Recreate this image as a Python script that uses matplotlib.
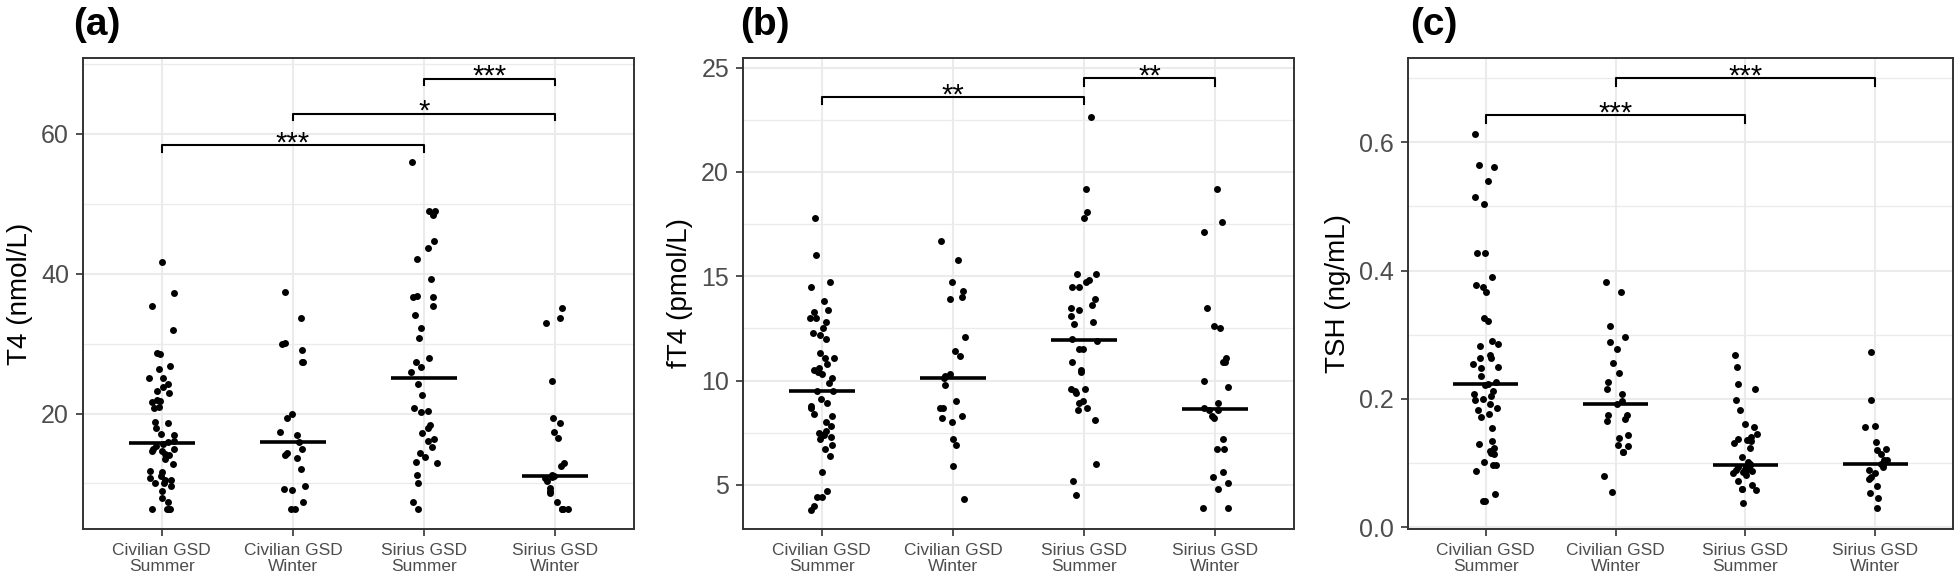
import numpy as np
import matplotlib
matplotlib.use('Agg')
import matplotlib.pyplot as plt

plt.rcParams['font.family'] = ['Liberation Sans', 'DejaVu Sans']

groups = ['Civilian GSD\nSummer', 'Civilian GSD\nWinter', 'Sirius GSD\nSummer', 'Sirius GSD\nWinter']

# (a) T4, nmol/L
t4_civ_summer = [41.6, 37.2, 35.4, 32.0, 28.6, 28.5, 26.8, 26.4, 25.1, 25.1, 24.2, 23.8, 23.2, 23.0,
                 21.9, 21.8, 21.6, 21.0, 20.8, 18.8, 18.7, 17.9, 17.1, 16.9, 16.1, 15.9, 15.6, 15.4,
                 14.9, 14.9, 14.7, 14.7, 14.2, 14.0, 13.5, 12.8, 11.8, 11.6, 11.1, 10.8, 10.5, 10.5,
                 10.1, 10.0, 9.6, 8.9, 7.9, 7.3, 6.4, 6.4, 6.4, 6.4]
t4_civ_winter = [37.4, 33.6, 30.1, 29.9, 29.1, 27.4, 27.4, 19.9, 19.3, 17.4, 16.9, 15.9, 14.9, 14.4,
                 14.1, 13.7, 12.1, 9.7, 9.2, 9.0, 7.3, 6.4, 6.4]
t4_sir_summer = [55.9, 48.9, 48.9, 48.4, 44.6, 43.6, 42.1, 39.3, 36.8, 36.7, 36.6, 35.4, 34.1, 32.3,
                 30.8, 27.9, 27.3, 26.6, 25.9, 24.2, 22.7, 20.8, 20.4, 20.2, 18.3, 17.9, 17.2, 16.4,
                 16.1, 15.2, 14.4, 13.8, 13.0, 12.9, 11.2, 10.1, 7.3, 6.4]
t4_sir_winter = [35.1, 33.7, 32.9, 24.6, 19.4, 18.7, 17.4, 16.5, 12.9, 12.5, 11.2, 11.0, 10.9, 10.8,
                 10.4, 9.4, 8.9, 8.6, 7.3, 6.4, 6.4, 6.4, 6.4]

# (b) fT4, pmol/L
ft4_civ_summer = [17.8, 16.0, 14.7, 14.5, 13.8, 13.4, 13.3, 13.0, 13.0, 12.8, 12.5, 12.3, 12.2, 12.0,
                  11.3, 11.1, 11.1, 10.8, 10.6, 10.5, 10.4, 10.3, 10.1, 9.9, 9.5, 9.5, 9.1, 8.9, 8.8,
                  8.7, 8.4, 8.3, 8.0, 7.8, 7.6, 7.5, 7.4, 7.4, 7.3, 7.2, 6.9, 6.7, 6.4, 5.6, 4.7, 4.4,
                  4.4, 4.0, 3.8]
ft4_civ_winter = [16.7, 15.8, 14.7, 14.3, 14.0, 13.9, 12.1, 11.4, 11.2, 10.3, 10.2, 10.1, 9.8, 9.0,
                  8.7, 8.7, 8.3, 8.2, 8.0, 7.2, 6.9, 5.9, 4.3]
ft4_sir_summer = [22.65, 19.2, 18.1, 17.8, 15.1, 15.1, 14.8, 14.7, 14.5, 14.5, 13.9, 13.6, 13.5, 13.4,
                  13.1, 12.8, 12.7, 12.0, 11.9, 11.5, 11.5, 10.9, 10.5, 10.4, 9.6, 9.6, 9.5, 9.4, 9.0,
                  8.9, 8.7, 8.6, 8.1, 6.0, 5.2, 4.5]
ft4_sir_winter = [19.2, 17.6, 17.1, 13.5, 12.6, 12.5, 11.1, 10.9, 10.9, 10.0, 9.7, 8.9, 8.7, 8.6, 8.6,
                  8.3, 8.2, 7.2, 6.7, 6.7, 5.6, 5.4, 5.1, 4.8, 3.9, 3.9]

# (c) TSH, ng/mL
tsh_civ_summer = [0.613, 0.565, 0.561, 0.539, 0.515, 0.503, 0.428, 0.428, 0.390, 0.378, 0.374, 0.366,
                  0.326, 0.322, 0.290, 0.286, 0.283, 0.268, 0.263, 0.263, 0.254, 0.249, 0.248, 0.235,
                  0.226, 0.223, 0.221, 0.212, 0.208, 0.204, 0.199, 0.198, 0.192, 0.186, 0.183, 0.176,
                  0.172, 0.154, 0.134, 0.130, 0.124, 0.118, 0.116, 0.114, 0.101, 0.097, 0.097, 0.088,
                  0.051, 0.040, 0.040]
tsh_civ_winter = [0.382, 0.367, 0.314, 0.296, 0.289, 0.278, 0.256, 0.240, 0.226, 0.215, 0.207, 0.196,
                  0.192, 0.174, 0.174, 0.169, 0.166, 0.143, 0.139, 0.128, 0.126, 0.117, 0.117, 0.079,
                  0.055]
tsh_sir_summer = [0.269, 0.249, 0.223, 0.216, 0.198, 0.182, 0.160, 0.156, 0.145, 0.141, 0.138, 0.136,
                  0.134, 0.131, 0.124, 0.110, 0.101, 0.098, 0.097, 0.095, 0.094, 0.093, 0.090, 0.089,
                  0.088, 0.088, 0.087, 0.086, 0.084, 0.081, 0.072, 0.066, 0.060, 0.060, 0.057, 0.037]
tsh_sir_winter = [0.273, 0.198, 0.157, 0.156, 0.133, 0.121, 0.120, 0.114, 0.105, 0.104, 0.098, 0.097,
                  0.093, 0.089, 0.085, 0.078, 0.075, 0.064, 0.053, 0.046, 0.029]

# significance brackets: (from group, to group, height, label)
sig_a = [(1, 3, 58.4, '***'), (2, 4, 62.9, '*'), (3, 4, 67.9, '***')]
sig_b = [(1, 3, 23.6, '**'), (3, 4, 24.5, '**')]
sig_c = [(1, 3, 0.642, '***'), (2, 4, 0.700, '***')]


def panel(ax, data, ylabel, ylim, major, minor, ticklabels, sigs, drop, seed):
	rng = np.random.default_rng(seed)
	ax.set_axisbelow(True)
	for i, vals in enumerate(data):
		x = i + 1
		vals = np.array(vals)
		jit = rng.uniform(-0.1, 0.1, len(vals))
		ax.scatter(x + jit, vals, s=25, color='black', linewidths=0, zorder=3)
		ax.hlines(np.median(vals), x - 0.25, x + 0.25, color='black', lw=2.6, zorder=4)
	for x1, x2, y, lab in sigs:
		ax.plot([x1, x1, x2, x2], [y - drop, y, y, y - drop], color='black', lw=1.5, zorder=4)
		ax.annotate(lab, xy=((x1 + x2) / 2, y), xytext=(0, -4.5), textcoords='offset points',
			ha='center', va='baseline', fontsize=21, color='black')
	ax.set_xlim(0.4, 4.6)
	ax.set_ylim(*ylim)
	ax.set_xticks([1, 2, 3, 4])
	ax.set_xticklabels(groups, fontsize=12.5, color='#4D4D4D', linespacing=1.1)
	ax.set_yticks(major)
	ax.set_yticklabels(ticklabels, fontsize=18, color='#4D4D4D')
	ax.set_yticks(minor, minor=True)
	ax.grid(which='major', color='#EBEBEB', lw=1.5)
	ax.grid(which='minor', color='#EBEBEB', lw=0.9)
	ax.tick_params(which='major', length=5, width=1.2, color='#333333', pad=5)
	ax.tick_params(which='minor', length=0)
	for s in ax.spines.values():
		s.set_color('#333333')
		s.set_linewidth(1.4)
	ax.set_ylabel(ylabel, fontsize=20, labelpad=6)


def main():
	fig = plt.figure(figsize=(19.6, 5.81), dpi=100)
	bottom, height = (581 - 529.3) / 581, (529.3 - 57.6) / 581
	ax1 = fig.add_axes([83 / 1960, bottom, 551 / 1960, height])
	ax2 = fig.add_axes([743 / 1960, bottom, 551 / 1960, height])
	ax3 = fig.add_axes([1408 / 1960, bottom, 545 / 1960, height])

	panel(ax1, [t4_civ_summer, t4_civ_winter, t4_sir_summer, t4_sir_winter], 'T4 (nmol/L)',
		(3.44, 70.9), [20, 40, 60], [10, 30, 50, 70], ['20', '40', '60'], sig_a, 0.95, 1)
	panel(ax2, [ft4_civ_summer, ft4_civ_winter, ft4_sir_summer, ft4_sir_winter], 'fT4 (pmol/L)',
		(2.87, 25.48), [5, 10, 15, 20, 25], [7.5, 12.5, 17.5, 22.5],
		['5', '10', '15', '20', '25'], sig_b, 0.36, 2)
	panel(ax3, [tsh_civ_summer, tsh_civ_winter, tsh_sir_summer, tsh_sir_winter], 'TSH (ng/mL)',
		(-0.0035, 0.732), [0, 0.2, 0.4, 0.6], [0.1, 0.3, 0.5, 0.7],
		['0.0', '0.2', '0.4', '0.6'], sig_c, 0.0116, 3)

	fig.text(73 / 1960, 1 - 25 / 581, '(a)', fontsize=28, weight='bold', ha='left', va='center')
	fig.text(740 / 1960, 1 - 25 / 581, '(b)', fontsize=28, weight='bold', ha='left', va='center')
	fig.text(1410 / 1960, 1 - 25 / 581, '(c)', fontsize=28, weight='bold', ha='left', va='center')

	fig.savefig('out.png', dpi=100)


if __name__ == "__main__":
	main()
